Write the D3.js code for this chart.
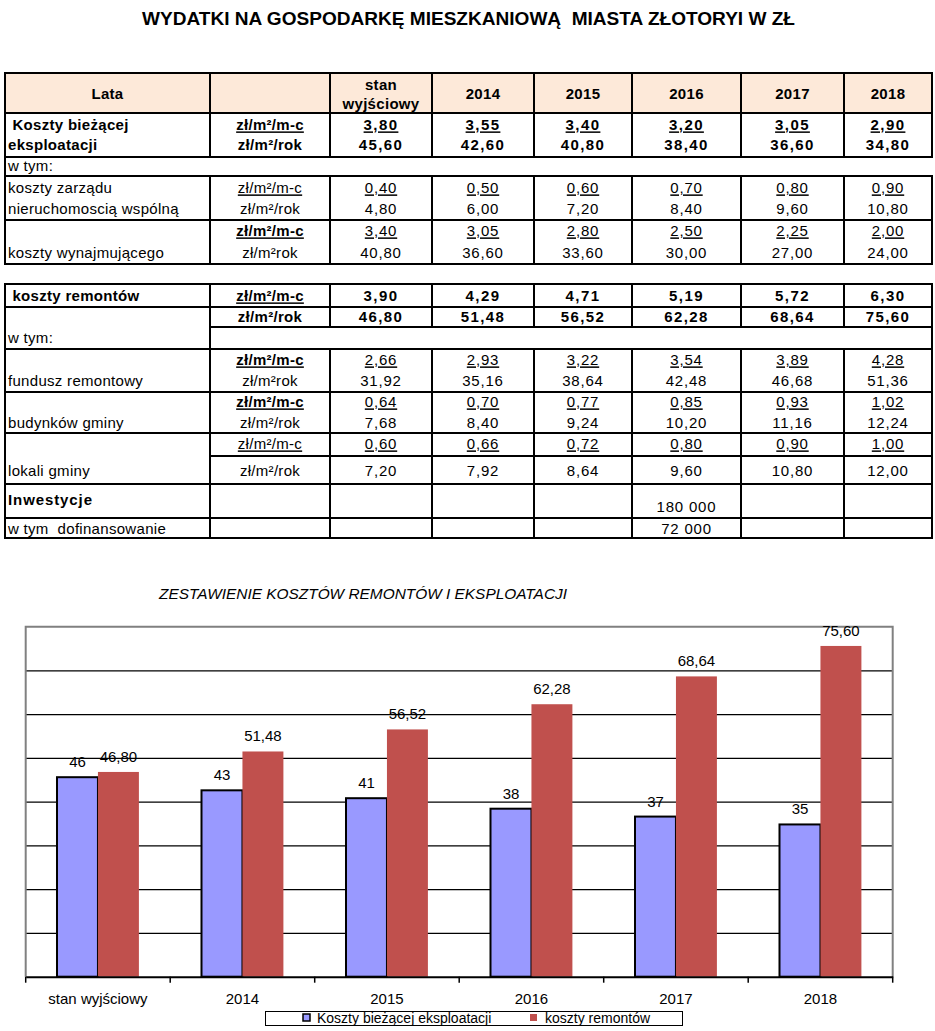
<!DOCTYPE html>
<html>
<head>
<meta charset="utf-8">
<script src="https://cdn.jsdelivr.net/npm/d3@7"></script>
<style>
body { margin: 0; background: #fff; }
svg { display: block; }
text { font-family: "Liberation Sans", Arial, sans-serif; fill: #000; white-space: pre; }
</style>
</head>
<body>
<div id="chart"></div>
<script>
// --- data ---
const CATEGORIES = ['stan wyjściowy', '2014', '2015', '2016', '2017', '2018'];
const HEADER_LABELS = [['stan', 'wyjściowy'], ['2014'], ['2015'], ['2016'], ['2017'], ['2018']];

const eksplMonth   = [3.80, 3.55, 3.40, 3.20, 3.05, 2.90];
const eksplYear    = [45.60, 42.60, 40.80, 38.40, 36.60, 34.80];
const zarzadMonth  = [0.40, 0.50, 0.60, 0.70, 0.80, 0.90];
const zarzadYear   = [4.80, 6.00, 7.20, 8.40, 9.60, 10.80];
const wynajMonth   = [3.40, 3.05, 2.80, 2.50, 2.25, 2.00];
const wynajYear    = [40.80, 36.60, 33.60, 30.00, 27.00, 24.00];
const remMonth     = [3.90, 4.29, 4.71, 5.19, 5.72, 6.30];
const remYear      = [46.80, 51.48, 56.52, 62.28, 68.64, 75.60];
const funduszMonth = [2.66, 2.93, 3.22, 3.54, 3.89, 4.28];
const funduszYear  = [31.92, 35.16, 38.64, 42.48, 46.68, 51.36];
const budMonth     = [0.64, 0.70, 0.77, 0.85, 0.93, 1.02];
const budYear      = [7.68, 8.40, 9.24, 10.20, 11.16, 12.24];
const lokMonth     = [0.60, 0.66, 0.72, 0.80, 0.90, 1.00];
const lokYear      = [7.20, 7.92, 8.64, 9.60, 10.80, 12.00];
const inwestycje   = [null, null, null, 180000, null, null];
const dofinans     = [null, null, null, 72000, null, null];

const SERIES_NAMES = ['Koszty bieżącej eksploatacji', 'koszty remontów'];
const Y_TICKS = [10, 20, 30, 40, 50, 60, 70];

const W = 935, H = 1031;
const BLUE = '#9999FF', RED = '#C0504D';

const fmt2 = v => v.toFixed(2).replace('.', ',');
const fmt0 = d3.format('.0f');
const fmtThousands = v => d3.format(',')(v).replace(/,/g, ' ');

const svg = d3.select('#chart').append('svg')
    .attr('width', W).attr('height', H);

svg.append('text')
    .attr('x', 142).attr('y', 25)
    .attr('xml:space', 'preserve')
    .attr('textLength', 653).attr('lengthAdjust', 'spacingAndGlyphs')
    .style('font-size', '18px').style('font-weight', 'bold')
    .text('WYDATKI NA GOSPODARKĘ MIESZKANIOWĄ  MIASTA ZŁOTORYI W ZŁ');

// ---------------- table ----------------
const COLS = [5, 210, 330, 432, 534, 632, 741, 844, 932];
const valX = i => (COLS[i + 2] + COLS[i + 3]) / 2;
const unitX = (COLS[1] + COLS[2]) / 2;

const tbl = svg.append('g').attr('class', 'table');
const lines = tbl.append('g').attr('stroke', '#000').attr('stroke-width', 2);

const hline = (y, x1 = COLS[0], x2 = COLS[8]) =>
    lines.append('line').attr('x1', x1 - 1).attr('x2', x2 + 1).attr('y1', y).attr('y2', y);
const vlines = (xs, y1, y2) => xs.forEach(x =>
    lines.append('line').attr('x1', x).attr('x2', x).attr('y1', y1).attr('y2', y2));

function txt(x, y, s, o = {}) {
    const t = tbl.append('text')
        .attr('x', x).attr('y', y).attr('dy', '0.36em')
        .attr('xml:space', 'preserve')
        .attr('text-anchor', o.anchor || 'middle')
        .style('font-size', (o.size || 15) + 'px')
        .style('font-weight', o.bold ? 'bold' : 'normal')
        .style('letter-spacing', (o.spacing != null ? o.spacing : 0.3) + 'px')
        .text(s);
    if (o.underline) t.style('text-decoration', 'underline');
    return t;
}
function valueRow(arr, y, o = {}, f = fmt2) {
    arr.forEach((v, i) => {
        if (v == null) return;
        txt(valX(i), y, f(v), Object.assign({ spacing: o.bold ? 1.4 : 0.8 }, o));
    });
}

// header
tbl.insert('rect', 'g')
    .attr('x', COLS[0]).attr('y', 73)
    .attr('width', COLS[8] - COLS[0]).attr('height', 40)
    .attr('fill', '#FDE9D9');

// section 1 grid
[73, 113, 157, 176, 220, 264].forEach(y => hline(y));
vlines(COLS, 73, 157);
vlines([COLS[0]], 157, 176);
vlines(COLS, 176, 264);

txt((COLS[0] + COLS[1]) / 2, 94, 'Lata', { bold: true });
HEADER_LABELS.forEach((lab, i) => {
    if (lab.length === 2) {
        txt(valX(i), 85, lab[0], { bold: true });
        txt(valX(i), 104, lab[1], { bold: true });
    } else {
        txt(valX(i), 94, lab[0], { bold: true });
    }
});

txt(8, 125, ' Koszty bieżącej', { bold: true, anchor: 'start' });
txt(8, 145, 'eksploatacji', { bold: true, anchor: 'start' });
txt(unitX, 125, 'zł/m²/m-c', { bold: true, underline: true });
txt(unitX, 145, 'zł/m²/rok', { bold: true });
valueRow(eksplMonth, 125, { bold: true, underline: true });
valueRow(eksplYear, 145, { bold: true });

txt(8, 166, 'w tym:', { anchor: 'start' });

txt(8, 188, 'koszty zarządu', { anchor: 'start' });
txt(8, 209, 'nieruchomoscią wspólną', { anchor: 'start' });
txt(unitX, 188, 'zł/m²/m-c', { underline: true });
txt(unitX, 209, 'zł/m²/rok');
valueRow(zarzadMonth, 188, { underline: true });
valueRow(zarzadYear, 209);

txt(8, 253, 'koszty wynajmującego', { anchor: 'start' });
txt(unitX, 231, 'zł/m²/m-c', { bold: true, underline: true });
txt(unitX, 253, 'zł/m²rok');
valueRow(wynajMonth, 231, { underline: true });
valueRow(wynajYear, 253);

// section 2 grid
[284, 307, 349, 392, 433, 484, 518, 538].forEach(y => hline(y));
hline(327, COLS[1]);
hline(456, COLS[1]);
vlines(COLS, 284, 327);
vlines([COLS[0], COLS[1], COLS[8]], 327, 349);
vlines(COLS, 349, 538);

txt(8, 296, ' koszty remontów', { bold: true, anchor: 'start' });
txt(unitX, 296, 'zł/m²/m-c', { bold: true, underline: true });
txt(unitX, 317, 'zł/m²/rok', { bold: true });
valueRow(remMonth, 296, { bold: true });
valueRow(remYear, 317, { bold: true });

txt(8, 338, 'w tym:', { anchor: 'start' });

txt(8, 381, 'fundusz remontowy', { anchor: 'start' });
txt(unitX, 360, 'zł/m²/m-c', { bold: true, underline: true });
txt(unitX, 381, 'zł/m²rok');
valueRow(funduszMonth, 360, { underline: true });
valueRow(funduszYear, 381);

txt(8, 423, 'budynków gminy', { anchor: 'start' });
txt(unitX, 402, 'zł/m²/m-c', { bold: true, underline: true });
txt(unitX, 423, 'zł/m²/rok');
valueRow(budMonth, 402, { underline: true });
valueRow(budYear, 423);

txt(8, 471, 'lokali gminy', { anchor: 'start' });
txt(unitX, 444, 'zł/m²/m-c', { underline: true });
txt(unitX, 471, 'zł/m²/rok');
valueRow(lokMonth, 444, { underline: true });
valueRow(lokYear, 471);

txt(8, 500, 'Inwestycje', { bold: true, anchor: 'start', spacing: 0.9 });
valueRow(inwestycje, 507, {}, fmtThousands);
txt(8, 529, 'w tym  dofinansowanie', { anchor: 'start' });
valueRow(dofinans, 529, {}, fmtThousands);

// ---------------- chart ----------------
svg.append('text')
    .attr('x', 159).attr('y', 599)
    .attr('textLength', 408).attr('lengthAdjust', 'spacingAndGlyphs')
    .style('font-size', '14px').style('font-style', 'italic')
    .text('ZESTAWIENIE KOSZTÓW REMONTÓW I EKSPLOATACJI');

const plot = { left: 25.7, right: 892.7, top: 626.7, bottom: 976.7 };

const x0 = d3.scaleBand().domain(CATEGORIES).range([plot.left, plot.right]);
const x1 = d3.scaleBand().domain(SERIES_NAMES)
    .range([x0.bandwidth() * 0.2166, x0.bandwidth() * 0.7834]);
const y = d3.scaleLinear().domain([0, 80]).range([plot.bottom, plot.top]);

const chart = svg.append('g').attr('class', 'chart');

// gridlines
chart.append('g')
    .attr('transform', `translate(${plot.left},0)`)
    .call(d3.axisLeft(y).tickValues(Y_TICKS).tickSize(-(plot.right - plot.left)).tickFormat(''))
    .call(g => g.select('.domain').remove())
    .call(g => g.selectAll('.tick line').attr('stroke', '#000').attr('stroke-width', 1.2));

// frame (left, top, right in grey)
chart.append('path')
    .attr('d', `M${plot.left},${plot.bottom}V${plot.top}H${plot.right}V${plot.bottom}`)
    .attr('fill', 'none').attr('stroke', '#808080').attr('stroke-width', 2);

const series = [
    { name: SERIES_NAMES[0], values: eksplYear, fill: BLUE, stroke: '#000', label: fmt0 },
    { name: SERIES_NAMES[1], values: remYear, fill: RED, stroke: 'none', label: fmt2 },
];

series.forEach(s => {
    const g = chart.append('g').attr('class', 'series');
    g.selectAll('rect')
        .data(s.values)
        .join('rect')
        .attr('x', (d, i) => x0(CATEGORIES[i]) + x1(s.name))
        .attr('y', d => y(d))
        .attr('width', x1.bandwidth())
        .attr('height', d => plot.bottom - y(d))
        .attr('fill', s.fill)
        .attr('stroke', s.stroke)
        .attr('stroke-width', 2);
    g.selectAll('text')
        .data(s.values)
        .join('text')
        .attr('x', (d, i) => x0(CATEGORIES[i]) + x1(s.name) + x1.bandwidth() / 2)
        .attr('y', d => y(d) - 10)
        .attr('text-anchor', 'middle')
        .style('font-size', '15px')
        .text(d => s.label(d));
});

// x axis
const xAxisG = chart.append('g')
    .attr('transform', `translate(0,${plot.bottom})`)
    .call(d3.axisBottom(x0).tickSize(0).tickPadding(17));
xAxisG.select('.domain').attr('stroke', '#000').attr('stroke-width', 2);
xAxisG.selectAll('.tick text')
    .style('font-size', '15px')
    .style('font-family', '"Liberation Sans", Arial, sans-serif');
xAxisG.selectAll('.sep')
    .data(d3.range(CATEGORIES.length + 1))
    .join('line')
    .attr('class', 'sep')
    .attr('x1', i => plot.left + i * x0.step())
    .attr('x2', i => plot.left + i * x0.step())
    .attr('y1', 0).attr('y2', 6)
    .attr('stroke', '#000').attr('stroke-width', 1.5);

// legend
const lg = svg.append('g').attr('class', 'legend');
lg.append('rect')
    .attr('x', 265.5).attr('y', 1011.5).attr('width', 417).attr('height', 14)
    .attr('fill', '#fff').attr('stroke', '#000').attr('stroke-width', 1);
const legendItems = [
    { name: SERIES_NAMES[0], fill: BLUE, stroke: '#000', mx: 303, tx: 317 },
    { name: SERIES_NAMES[1], fill: RED, stroke: 'none', mx: 530, tx: 545 },
];
legendItems.forEach(it => {
    lg.append('rect')
        .attr('x', it.mx).attr('y', 1014).attr('width', 7).attr('height', 7)
        .attr('fill', it.fill).attr('stroke', it.stroke).attr('stroke-width', 1.5);
    lg.append('text')
        .attr('x', it.tx).attr('y', 1023)
        .style('font-size', '14px')
        .text(it.name);
});
</script>
</body>
</html>
